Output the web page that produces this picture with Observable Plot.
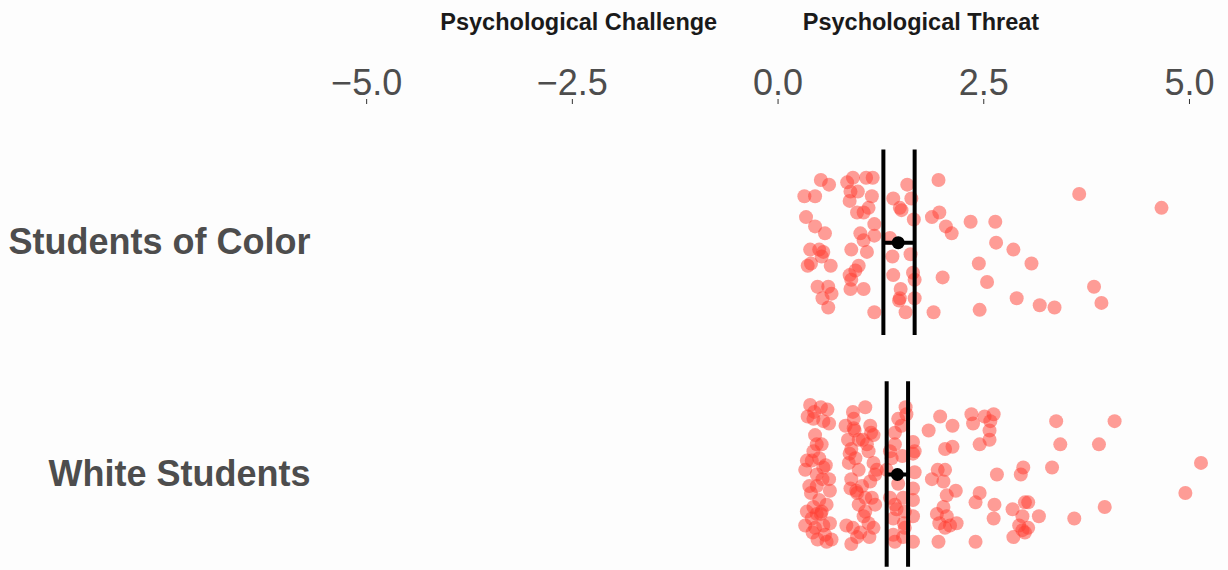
<!DOCTYPE html>
<html>
<head>
<meta charset="utf-8">
<script src="https://cdn.jsdelivr.net/npm/d3@7"></script>
<script src="https://cdn.jsdelivr.net/npm/@observablehq/plot@0.6"></script>
<style>
  html, body { margin: 0; padding: 0; background: #fdfdfd; }
</style>
</head>
<body>
<div id="chart"></div>
<script>
// ---- Data ----
const groups = ["Students of Color", "White Students"];
const xTicks = [-5, -2.5, 0, 2.5, 5];
const annotLabels = ["Psychological Challenge", "Psychological Threat"];
const annotX = [-0.74, 0.30];

// group summaries
const means = [1.46, 1.45];
const ciLow = [1.28, 1.32];
const ciHigh = [1.66, 1.58];

// Students of Color: score and vertical jitter
const socX = [0.52,0.62,0.32,0.45,0.84,0.91,1.07,1.15,0.88,0.97,
  0.87,1.14,1.10,0.96,1.04,1.40,1.57,1.62,1.48,1.50,
  1.65,1.95,1.87,1.96,2.04,2.11,2.34,2.64,2.65,0.34,
  0.45,0.57,1.17,1.17,1.00,1.04,1.36,0.39,0.50,0.55,
  0.53,0.89,1.08,1.39,1.61,0.36,0.40,0.64,0.87,0.89,
  0.98,0.94,1.40,1.64,1.66,2.00,2.44,2.54,0.48,0.61,
  0.65,0.54,0.61,0.88,1.04,1.49,1.48,1.47,1.66,1.17,
  1.55,1.89,2.45,
  3.66,4.66,2.90,3.18,3.36,3.84,3.93,2.86,3.08];
const socJitter = [-0.27,-0.25,-0.20,-0.20,-0.26,-0.28,-0.28,-0.28,-0.22,-0.22,
  -0.18,-0.20,-0.15,-0.13,-0.13,-0.19,-0.25,-0.19,-0.15,-0.14,
  -0.10,-0.27,-0.11,-0.13,-0.07,-0.04,-0.09,-0.09,0.00,-0.11,
  -0.07,-0.04,-0.08,-0.03,-0.04,-0.01,-0.02,0.03,0.03,0.04,
  0.06,0.03,0.04,0.06,0.05,0.10,0.09,0.10,0.14,0.16,
  0.10,0.12,0.14,0.13,0.16,0.15,0.09,0.17,0.19,0.19,
  0.22,0.24,0.28,0.20,0.20,0.20,0.24,0.25,0.24,0.30,
  0.30,0.30,0.29,
  -0.21,-0.15,0.24,0.27,0.28,0.19,0.26,0.03,0.09];

// White Students: score and vertical jitter
const whiteX = [0.39,0.52,0.60,0.36,0.43,0.55,0.62,0.82,0.91,0.92,
  1.06,1.12,1.16,1.46,1.50,1.55,1.56,1.42,1.64,1.66,
  1.83,1.97,2.12,2.35,2.37,2.51,2.58,2.62,2.57,2.57,
  2.45,2.03,2.12,
  0.47,0.53,0.43,0.35,0.41,0.50,0.55,0.33,0.47,0.54,
  0.62,0.47,0.63,0.85,0.89,0.98,1.03,1.08,1.10,1.13,
  0.94,0.98,1.16,1.20,1.18,1.12,0.89,0.88,0.96,1.02,
  1.06,1.14,1.18,1.36,1.38,1.42,1.32,1.64,1.66,1.64,
  1.64,1.87,1.94,2.03,2.01,2.16,2.05,2.45,2.40,2.66,
  0.35,0.43,0.47,0.41,0.53,0.59,0.33,0.45,0.55,0.63,
  0.48,0.59,0.65,0.57,0.83,0.91,0.96,0.89,1.04,1.10,
  1.16,1.11,1.36,1.42,1.40,1.40,1.42,1.52,1.52,1.54,
  1.54,1.64,1.64,1.93,1.96,2.01,2.05,2.09,2.17,2.03,
  1.95,2.40,2.63,2.62,
  3.38,4.09,3.43,3.90,3.33,2.98,2.95,5.14,4.95,3.00,
  3.04,2.85,2.97,3.17,3.60,3.97,2.93,2.97,3.04,2.86,3.00,
  0.45,0.40,0.50,0.42,0.58,0.52,0.38,0.44,0.92,0.98,
  0.86,1.00,0.93,1.06,0.95,0.87,1.51,1.46,1.53,1.44];
const whiteJitter = [-0.30,-0.29,-0.28,-0.25,-0.24,-0.23,-0.22,-0.21,-0.27,-0.24,
  -0.29,-0.21,-0.17,-0.24,-0.21,-0.29,-0.26,-0.18,-0.14,-0.10,
  -0.19,-0.25,-0.21,-0.26,-0.22,-0.25,-0.23,-0.26,-0.19,-0.15,
  -0.13,-0.11,-0.12,
  -0.13,-0.13,-0.10,-0.06,-0.06,-0.07,-0.03,-0.02,0.00,0.02,
  0.02,0.05,0.07,-0.15,-0.11,-0.15,-0.15,-0.13,-0.10,-0.18,
  -0.07,-0.02,-0.05,-0.02,0.00,0.03,0.02,0.06,0.08,0.05,
  0.10,0.10,0.13,-0.10,-0.07,-0.13,-0.02,-0.09,-0.01,0.06,
  0.11,0.02,-0.02,-0.02,0.03,0.07,0.09,0.08,0.12,0.00,
  0.16,0.14,0.17,0.19,0.16,0.13,0.22,0.23,0.22,0.21,
  0.28,0.29,0.28,0.26,0.22,0.23,0.27,0.30,0.18,0.21,
  0.23,0.27,0.10,0.13,0.19,0.26,0.29,0.27,0.10,0.16,
  0.23,0.18,0.29,0.17,0.21,0.14,0.18,0.22,0.21,0.23,
  0.29,0.29,0.13,0.19,
  -0.23,-0.23,-0.13,-0.13,-0.03,-0.03,0.00,-0.05,0.08,0.12,
  0.12,0.15,0.18,0.18,0.19,0.14,0.22,0.24,0.23,0.27,0.25,
  -0.17,0.08,0.11,0.25,-0.04,0.17,0.05,-0.27,-0.20,0.13,
  -0.05,0.25,-0.19,0.16,0.07,-0.09,-0.08,0.04,0.21,0.15];

// ---- Build tables ----
const points = [
  ...socX.map((v, i) => ({g: 0, value: v, jitter: socJitter[i]})),
  ...whiteX.map((v, i) => ({g: 1, value: v, jitter: whiteJitter[i]}))
];
const summary = groups.map((name, g) => ({g, mean: means[g], low: ciLow[g], high: ciHigh[g]}));
const annots = annotLabels.map((t, i) => ({t, x: annotX[i]}));
const halfBand = 0.4;

const fmt = d3.format(".1f");

const chart = Plot.plot({
  width: 1228,
  height: 570,
  marginTop: 103,
  marginLeft: 325,
  marginRight: 2,
  marginBottom: 0,
  style: {background: "#fdfdfd", fontFamily: "'Liberation Sans', Arial, sans-serif", overflow: "visible"},
  x: {domain: [-5.5, 5.45]},
  y: {domain: [-0.6, 1.414], range: [103, 570]},
  marks: [
    Plot.axisX({anchor: "top", ticks: xTicks, tickFormat: fmt, tickSize: 5, tickPadding: 4,
      fontSize: 36, color: "#4d4d4d", stroke: "#333", label: null}),
    Plot.axisY({ticks: [0, 1], tickFormat: i => groups[i], tickSize: 0, tickPadding: 15,
      fontSize: 36, fontWeight: "bold", color: "#4d4d4d", label: null}),
    Plot.text(annots.slice(0, 1), {x: "x", text: "t", frameAnchor: "top", dy: -90, textAnchor: "end",
      fontSize: 23.5, fontWeight: "bold", fill: "#1a1a1a"}),
    Plot.text(annots.slice(1), {x: "x", text: "t", frameAnchor: "top", dy: -90, textAnchor: "start",
      fontSize: 23.5, fontWeight: "bold", fill: "#1a1a1a"}),
    Plot.dot(points, {x: "value", y: d => d.g + d.jitter, r: 7, fill: "#ff3b30", fillOpacity: 0.5, stroke: "none"}),
    Plot.ruleX(summary, {x: "low", y1: d => d.g - halfBand, y2: d => d.g + halfBand, stroke: "black", strokeWidth: 4}),
    Plot.ruleX(summary, {x: "high", y1: d => d.g - halfBand, y2: d => d.g + halfBand, stroke: "black", strokeWidth: 4}),
    Plot.ruleY(summary, {y: "g", x1: "low", x2: "high", stroke: "black", strokeWidth: 4}),
    Plot.dot(summary, {x: "mean", y: "g", r: 6.5, fill: "black", stroke: "none"})
  ]
});
document.getElementById("chart").appendChild(chart);
</script>
</body>
</html>
